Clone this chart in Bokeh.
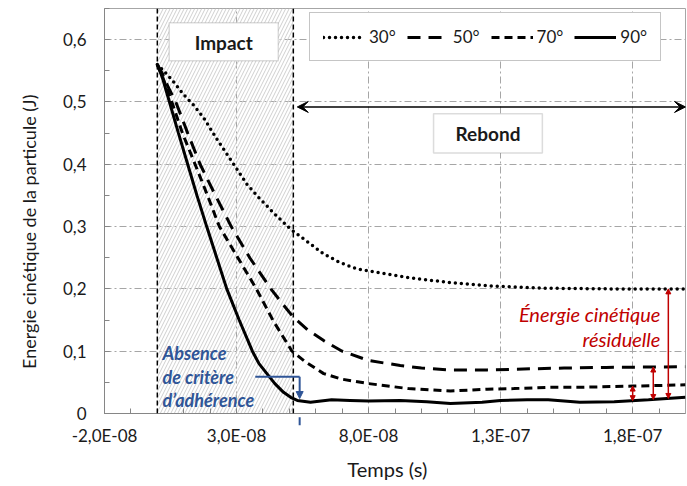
import numpy as np
from bokeh.plotting import figure
from bokeh.models import (Range1d, FixedTicker, CustomJSTickFormatter, BoxAnnotation, Span,
                          Label, Arrow, VeeHead, NormalHead, Legend, LegendItem)
from bokeh.embed import file_html
from bokeh.resources import INLINE

# ---------------- data (time in units of 1e-8 s, energy in J) ----------------
TIME_UNIT = 1e-8

t_30 = [0, 0.24, 0.6, 0.99, 1.35, 1.75, 2.26, 2.89, 3.39, 3.83, 4.4, 5.04, 5.8, 6.3, 6.93,
        7.56, 8.0, 9.5, 11.1, 12.5, 14.8, 17.0, 20.0]
e_30 = [0.56, 0.55, 0.533, 0.512, 0.496, 0.475, 0.44, 0.4, 0.368, 0.347, 0.322, 0.296, 0.272,
        0.256, 0.242, 0.232, 0.229, 0.218, 0.210, 0.205, 0.201, 0.200, 0.200]

t_50 = [0, 0.2, 0.4, 0.7, 1.15, 1.62, 2.2, 2.8, 3.5, 4.3, 4.8, 5.14, 5.7, 6.3, 7.0, 8.0, 9.2,
        10.0, 11.0, 12.5, 13.5, 15.4, 17.0, 20.0]
e_50 = [0.56, 0.545, 0.525, 0.5, 0.45, 0.4, 0.35, 0.3, 0.25, 0.2, 0.173, 0.155, 0.134, 0.117,
        0.10, 0.085, 0.077, 0.073, 0.070, 0.070, 0.071, 0.073, 0.074, 0.075]

t_70 = [0, 0.2, 0.55, 0.95, 1.43, 1.9, 2.35, 3.05, 3.75, 4.4, 5.1, 5.6, 6.3, 7.0, 8.0, 9.5,
        11.1, 12.5, 13.5, 14.8, 16.0, 18.0, 20.0]
e_70 = [0.56, 0.54, 0.5, 0.45, 0.4, 0.35, 0.3, 0.25, 0.2, 0.148, 0.1, 0.083, 0.064, 0.055,
        0.048, 0.040, 0.036, 0.039, 0.040, 0.042, 0.042, 0.044, 0.046]

t_90 = [0, 0.2, 0.46, 0.8, 1.15, 1.5, 1.87, 2.25, 2.63, 3.1, 3.6, 3.85, 4.15, 4.45, 4.78,
        5.05, 5.3, 5.8, 6.6, 7.3, 8.0, 9.2, 10.2, 11.1, 12.3, 13.0, 14.0, 14.8, 16.0, 17.3,
        18.6, 20.0]
e_90 = [0.56, 0.538, 0.5, 0.45, 0.4, 0.35, 0.3, 0.25, 0.2, 0.15, 0.1, 0.08, 0.064, 0.048,
        0.034, 0.026, 0.021, 0.018, 0.022, 0.021, 0.020, 0.021, 0.019, 0.016, 0.018, 0.021,
        0.022, 0.022, 0.018, 0.019, 0.022, 0.026]

series_names = ["30°", "50°", "70°", "90°"]

x_ticks = [-2e-8, 3e-8, 8e-8, 1.3e-7, 1.8e-7]
x_tick_labels = ["-2,0E-08", "3,0E-08", "8,0E-08", "1,3E-07", "1,8E-07"]
y_ticks = [0, 0.1, 0.2, 0.3, 0.4, 0.5, 0.6]
y_tick_labels = ["0", "0,1", "0,2", "0,3", "0,4", "0,5", "0,6"]

x_title = "Temps (s)"
y_title = "Energie cinétique de la particule  (J)"

impact_start = 0.0
impact_end = 5.15e-8

FONT = "Lato"
INK = "#1a1a1a"
NBSP = "\u00a0"

def sec(ts):
    return [v * TIME_UNIT for v in ts]

# annotations that must be allowed to draw outside the frame
NOCLIP = {"clip": False} if "clip" in Arrow.properties() else {}

# ---------------- figure ----------------
p = figure(width=687, height=486, output_backend="svg", toolbar_location=None,
           x_range=Range1d(-2e-8, 2e-7), y_range=Range1d(0, 0.65),
           min_border_left=104, min_border_right=2, min_border_top=8, min_border_bottom=73,
           background_fill_color="white", border_fill_color="white")
p.outline_line_color = "#a6a6a6"
p.outline_line_width = 1

# axes
p.xaxis.ticker = FixedTicker(ticks=x_ticks,
                             minor_ticks=list(np.arange(-2e-8, 2.01e-7, 1e-8)))
p.yaxis.ticker = FixedTicker(ticks=y_ticks, minor_ticks=list(np.arange(0, 0.651, 0.05)))
fmt_code = """
let best = 0; let d = Infinity;
for (let i = 0; i < tvals.length; i++) {
  const dd = Math.abs(tvals[i] - tick);
  if (dd < d) { d = dd; best = i; }
}
return tlabels[best];
"""
p.xaxis.formatter = CustomJSTickFormatter(args=dict(tvals=x_ticks, tlabels=x_tick_labels), code=fmt_code)
p.yaxis.formatter = CustomJSTickFormatter(args=dict(tvals=y_ticks, tlabels=y_tick_labels), code=fmt_code)

for ax in (p.xaxis[0], p.yaxis[0]):
    ax.axis_line_color = "#868686"
    ax.major_tick_line_color = "#868686"
    ax.minor_tick_line_color = "#868686"
    ax.major_tick_in = 5
    ax.major_tick_out = 0
    ax.minor_tick_in = 5
    ax.minor_tick_out = 0
    ax.major_label_text_font = FONT
    ax.major_label_text_font_size = "17px"
    ax.major_label_text_color = INK
    ax.axis_label_text_font = FONT
    ax.axis_label_text_font_style = "normal"
    ax.axis_label_text_color = INK

# trailing non-breaking spaces shift the centred titles like in the reference
p.xaxis.axis_label = x_title + NBSP * 3
p.yaxis.axis_label = y_title + NBSP * 8
p.xaxis.axis_label_text_font_size = "20px"
p.yaxis.axis_label_text_font_size = "18px"
p.xaxis.major_label_standoff = 11
p.xaxis.axis_label_standoff = 8
p.yaxis.major_label_standoff = 18
p.yaxis.axis_label_standoff = 20

p.grid.grid_line_color = "#a6a6a6"
p.grid.grid_line_dash = "7 3 2 3"
p.grid.grid_line_width = 1

# impact zone hatch
p.add_layout(BoxAnnotation(left=impact_start, right=impact_end, fill_alpha=0,
                           line_alpha=0, hatch_pattern="/", hatch_color="#cfcfcf",
                           hatch_scale=7, hatch_weight=1, level="underlay"))

# curves
r30 = p.line(sec(t_30), e_30, line_color="black", line_width=3.5, line_dash="0 6",
             line_cap="round")
r50 = p.line(sec(t_50), e_50, line_color="black", line_width=3, line_dash="13 8")
r70 = p.line(sec(t_70), e_70, line_color="black", line_width=3, line_dash="8 5")
r90 = p.line(sec(t_90), e_90, line_color="black", line_width=3)

# impact boundaries
for loc in (impact_start, impact_end):
    p.add_layout(Span(location=loc, dimension="height", line_color="black",
                      line_dash="5 3", line_width=1.5))

# legend
legend = Legend(items=[LegendItem(label=n, renderers=[r]) for n, r in
                       zip(series_names, [r30, r50, r70, r90])],
                orientation="horizontal", location=(205, 352),
                glyph_width=42, glyph_height=20, label_standoff=4, spacing=11,
                padding=13, margin=0, border_line_color="#8c8c8c", border_line_width=1.5,
                background_fill_color="white", background_fill_alpha=1,
                label_text_font=FONT, label_text_font_size="17px",
                label_text_color=INK)
p.add_layout(legend)

# Impact box
p.add_layout(BoxAnnotation(left=0.45e-8, right=4.58e-8, top=0.627, bottom=0.566,
                           fill_color="white", fill_alpha=1, line_color="#8c8c8c",
                           line_width=1.5))
p.add_layout(Label(x=2.515e-8, y=0.596, text="Impact", text_align="center",
                   text_baseline="middle", text_font=FONT, text_font_style="bold",
                   text_font_size="19px", text_color=INK))

# Rebond arrow and box
p.add_layout(Arrow(x_start=impact_end + 0.15e-8, y_start=0.492, x_end=2.0e-7, y_end=0.492,
                   line_color="black", line_width=1.5,
                   start=VeeHead(size=11, fill_color="black", line_color="black", line_width=1),
                   end=VeeHead(size=11, fill_color="black", line_color="black", line_width=1)))
p.add_layout(BoxAnnotation(left=10.46e-8, right=14.58e-8, top=0.481, bottom=0.418,
                           fill_color="white", fill_alpha=1, line_color="#8c8c8c",
                           line_width=1.5))
p.add_layout(Label(x=12.52e-8, y=0.4495, text="Rebond", text_align="center",
                   text_baseline="middle", text_font=FONT, text_font_style="bold",
                   text_font_size="19px", text_color=INK))

# blue annotation
BLUE = "#2f5597"
for txt, yy in zip(["Absence", "de critère", "d’adhérence"], [0.097, 0.059, 0.021]):
    p.add_layout(Label(x=0.2e-8, y=yy, text=txt, text_align="left", text_baseline="middle",
                       text_font=FONT, text_font_style="bold italic", text_font_size="18px",
                       text_color=BLUE))
x_mark = 5.39e-8
p.add_layout(Arrow(x_start=3.71e-8, y_start=0.059, x_end=x_mark, y_end=0.059,
                   line_color=BLUE, line_width=2, end=None))
p.add_layout(Arrow(x_start=x_mark, y_start=0.059, x_end=x_mark, y_end=0.024,
                   line_color=BLUE, line_width=2,
                   end=NormalHead(size=7, fill_color=BLUE, line_color=BLUE)))
# marker below the time axis
p.add_layout(Arrow(x_start=x_mark, y_start=-0.036, x_end=x_mark, y_end=-0.006,
                   line_color=BLUE, line_width=2,
                   end=NormalHead(size=8, fill_color=BLUE, line_color=BLUE), **NOCLIP))

# red annotation: residual kinetic energy arrows
RED = "#c00000"
arrow_pos = [(1.8e-7, t_70, e_70), (1.878e-7, t_50, e_50), (1.935e-7, t_30, e_30)]
for xa, ts, es in arrow_pos:
    top = float(np.interp(xa, sec(ts), es))
    bot = float(np.interp(xa, sec(t_90), e_90))
    p.add_layout(Arrow(x_start=xa, y_start=bot, x_end=xa, y_end=top, line_color=RED,
                       line_width=1.5,
                       start=NormalHead(size=5, fill_color=RED, line_color=RED),
                       end=NormalHead(size=5, fill_color=RED, line_color=RED)))
for txt, yy in zip(["Énergie cinétique", "résiduelle"], [0.159, 0.119]):
    p.add_layout(Label(x=19.05e-8, y=yy, text=txt, text_align="right", text_baseline="middle",
                       text_font=FONT, text_font_style="italic", text_font_size="20px",
                       text_color=RED))

open("out.html", "w").write(file_html(p, INLINE))
